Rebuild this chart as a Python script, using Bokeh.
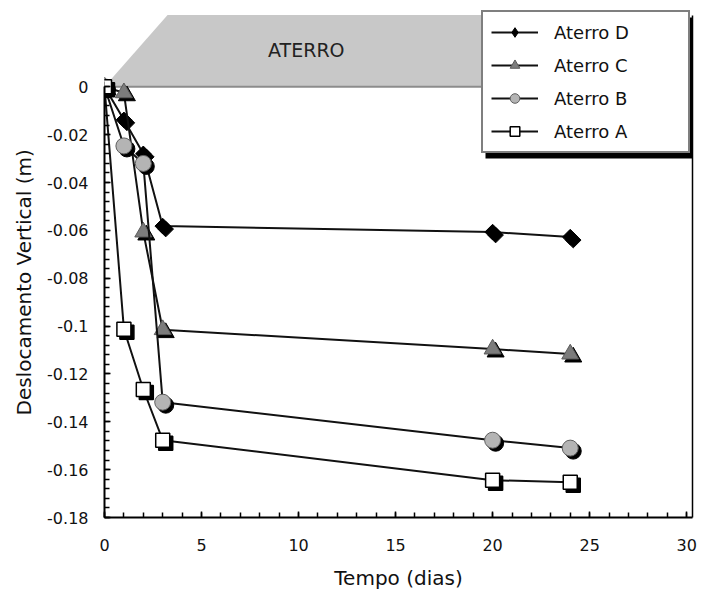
import numpy as np
from bokeh.plotting import figure
from bokeh.models import (Range1d, LinearAxis, FixedTicker, Legend, LegendItem, Label,
                          BoxAnnotation, Title)
from bokeh.embed import file_html
from bokeh.resources import INLINE

# Settlement readings (m) against time (days) for each embankment stage
tempo = [0, 1, 2, 3, 20, 24]
aterro_d = [0.0, -0.0138, -0.0280, -0.0582, -0.0607, -0.0628]
aterro_c = [0.0, -0.0025, -0.0607, -0.1015, -0.1096, -0.1117]
aterro_b = [0.0, -0.0247, -0.0320, -0.1318, -0.1477, -0.1510]
aterro_a = [0.0, -0.1013, -0.1265, -0.1477, -0.1644, -0.1653]

x_ticks = [0, 5, 10, 15, 20, 25, 30]
x_tick_labels = ["0", "5", "10", "15", "20", "25", "30"]
y_ticks = [0.0, -0.02, -0.04, -0.06, -0.08, -0.1, -0.12, -0.14, -0.16, -0.18]
y_tick_labels = ["0", "-0.02", "-0.04", "-0.06", "-0.08", "-0.1", "-0.12", "-0.14", "-0.16", "-0.18"]

# Embankment sketch drawn above the zero line
aterro_x = [0, 3.25, 30, 30]
aterro_y = [0.0, 0.03, 0.03, 0.0]
base_x = [0, 30]
base_y = [0.0, 0.0]

FONT = "DejaVu Sans"
X_RANGE = (0, 30.3)
Y_RANGE = (-0.18, 0.034)
FRAME_W, FRAME_H = 588, 512

p = figure(
    width=703, height=594,
    x_range=Range1d(*X_RANGE), y_range=Range1d(*Y_RANGE),
    output_backend="svg", toolbar_location=None,
    min_border_left=104, min_border_right=11, min_border_top=5, min_border_bottom=77,
)
p.outline_line_color = None
p.grid.visible = False
p.background_fill_color = "white"
p.border_fill_color = "white"

# axes: ticks pointing inwards, y axis only over the measured range
xa = p.xaxis[0]
xa.ticker = FixedTicker(ticks=x_ticks, minor_ticks=list(np.arange(0, 31, 1)))
xa.major_label_overrides = {t: s for t, s in zip(x_ticks, x_tick_labels)}
ya = p.yaxis[0]
ya.ticker = FixedTicker(ticks=y_ticks, minor_ticks=list(np.round(np.arange(-0.18, 0.0001, 0.004), 3)))
ya.major_label_overrides = {t: s for t, s in zip(y_ticks, y_tick_labels)}
ya.bounds = (-0.18, 0)
for ax in (xa, ya):
    ax.axis_line_color = "black"
    ax.axis_line_width = 2
    ax.major_tick_in = 6
    ax.major_tick_out = 0
    ax.minor_tick_in = 5
    ax.minor_tick_out = 0
    ax.major_tick_line_color = "black"
    ax.minor_tick_line_color = "black"
    ax.major_tick_line_width = 1.5
    ax.minor_tick_line_width = 1.5
    ax.major_label_text_font = FONT
    ax.major_label_text_font_size = "16px"
    ax.major_label_text_color = "#111111"
    ax.axis_label_text_font = FONT
    ax.axis_label_text_font_size = "20px"
    ax.axis_label_text_font_style = "normal"
    ax.axis_label_text_color = "#111111"
xa.axis_label = "Tempo (dias)"
xa.major_label_standoff = 21
xa.axis_label_standoff = 12
ya.major_label_standoff = 16

# vertical axis title, started from a fixed distance above the frame bottom
p.add_layout(Title(text="Deslocamento Vertical (m)", align="left", offset=102,
                   text_font=FONT, text_font_size="20px", text_font_style="normal",
                   text_color="#111111", standoff=17), "left")

# right-hand frame edge (no ticks, no labels)
ra = LinearAxis(bounds=(-0.18, 0.03), ticker=FixedTicker(ticks=[]),
                axis_line_color="black", axis_line_width=1.5,
                major_tick_line_color=None, minor_tick_line_color=None,
                major_label_standoff=0)
p.add_layout(ra, "right")

# embankment
p.patch(aterro_x, aterro_y, fill_color="#c8c8c8", line_color=None)
p.line(base_x, base_y, line_color="#8c8c8c", line_width=2)
p.add_layout(Label(x=10.4, y=0.0155, text="ATERRO", text_font=FONT, text_font_size="19px",
                   text_color="#222222", text_align="center", text_baseline="middle"))

# drop shadow offset of the markers (3 px)
dx = 3 * (X_RANGE[1] - X_RANGE[0]) / FRAME_W
dy = -3 * (Y_RANGE[1] - Y_RANGE[0]) / FRAME_H
tempo_sh = [t + dx for t in tempo]

series = [
    ("Aterro D", aterro_d,
     dict(marker="square", angle=np.pi / 4, size=11, fill_color="black", line_color="black"),
     dict(marker="diamond", size=14, fill_color="black", line_color="black")),
    ("Aterro C", aterro_c,
     dict(marker="triangle", size=17, fill_color="#7c7c7c", line_color="#5a5a5a"), None),
    ("Aterro B", aterro_b,
     dict(marker="circle", size=16, fill_color="#b4b4b4", line_color="#606060"), None),
    ("Aterro A", aterro_a,
     dict(marker="square", size=14, fill_color="white", line_color="black", line_width=1.5), None),
]

items = []
for name, vals, style, key_style in series:
    ln = p.line(tempo, vals, line_color="#111111", line_width=2)
    sh_style = dict(style)
    sh_style.update(fill_color="black", line_color="black")
    p.scatter(tempo_sh, [v + dy for v in vals], **sh_style)
    key = None
    if key_style is not None:
        # upright diamond used as the legend key; hidden under the rotated squares
        key = p.scatter(tempo, vals, **key_style)
    sc = p.scatter(tempo, vals, **style)
    items.append(LegendItem(label=name, renderers=[ln, key if key is not None else sc]))

# shadow behind the legend box
p.add_layout(BoxAnnotation(left=485, right=692, top=17, bottom=158,
                           left_units="canvas", right_units="canvas",
                           top_units="canvas", bottom_units="canvas",
                           fill_color="black", fill_alpha=1.0, line_color=None))

legend = Legend(
    items=items, orientation="vertical", location=(377, 364),
    glyph_width=47, glyph_height=24, label_height=24, label_width=126,
    label_standoff=16, spacing=9, padding=8,
    label_text_font=FONT, label_text_font_size="18px", label_text_color="#111111",
    border_line_color="black", border_line_width=2,
    background_fill_color="white", background_fill_alpha=1.0,
)
p.add_layout(legend, "center")

open("out.html", "w").write(file_html(p, INLINE))
